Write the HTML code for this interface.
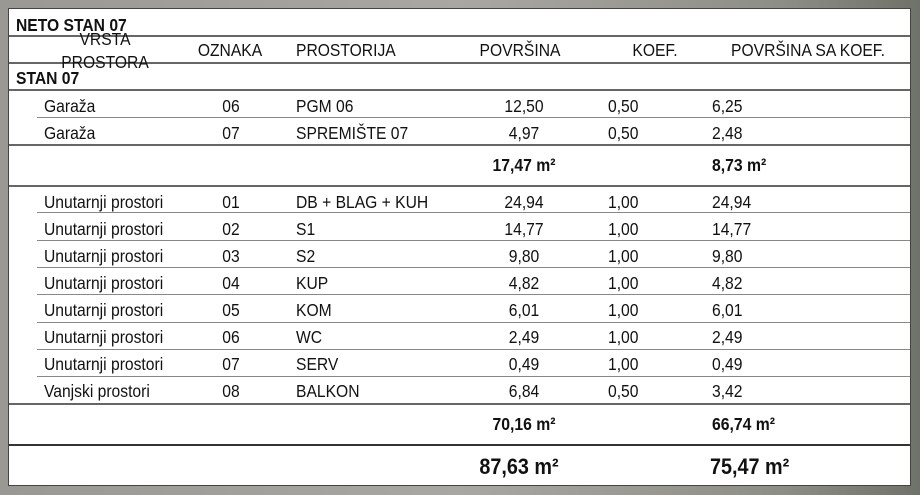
<!DOCTYPE html>
<html><head><meta charset="utf-8"><style>
body{margin:0;width:920px;height:495px;background:linear-gradient(90deg,#9a9893 0%,#a9a7a2 50%,#8d8e86 85%,#6f7268 100%);position:relative;overflow:hidden;font-family:"Liberation Sans",sans-serif;color:#111}
#p{position:absolute;left:9px;top:9px;width:901px;height:476px;background:#fff;box-shadow:0 0 0 1px #444}
.l{position:absolute;height:2px;background:#666;left:0;width:901px}
.t{position:absolute;font-size:17.4px;white-space:nowrap;transform:scaleX(.9);transform-origin:0 0;line-height:18px}
.c{transform:translate(-50%,0) scaleX(.9);transform-origin:50% 0}
.b{font-weight:bold}
.s{font-size:17.5px}
.g{font-size:22px;line-height:24px}
</style></head><body><div id="p">
<div class="l" style="top:26px"></div>
<div class="l" style="top:53px"></div>
<div class="l" style="top:80px"></div>
<div class="l" style="top:108px;left:28px;width:873px;height:1px;background:#888"></div>
<div class="l" style="top:135px"></div>
<div class="l" style="top:176px"></div>
<div class="l" style="top:203px;left:28px;width:873px;height:1px;background:#888"></div>
<div class="l" style="top:231px;left:28px;width:873px;height:1px;background:#888"></div>
<div class="l" style="top:258px;left:28px;width:873px;height:1px;background:#888"></div>
<div class="l" style="top:285px;left:28px;width:873px;height:1px;background:#888"></div>
<div class="l" style="top:313px;left:28px;width:873px;height:1px;background:#888"></div>
<div class="l" style="top:340px;left:28px;width:873px;height:1px;background:#888"></div>
<div class="l" style="top:367px;left:28px;width:873px;height:1px;background:#888"></div>
<div class="l" style="top:394px"></div>
<div class="l" style="top:435px;background:#333"></div>

<div class="t b" style="left:7px;top:7px">NETO STAN 07</div>
<div class="t c" style="left:96px;top:21px">VRSTA</div>
<div class="t c" style="left:96px;top:44px">PROSTORA</div>
<div class="t c" style="left:221px;top:32px">OZNAKA</div>
<div class="t" style="left:287px;top:32px">PROSTORIJA</div>
<div class="t c" style="left:511px;top:32px">POVRŠINA</div>
<div class="t c" style="left:646px;top:32px">KOEF.</div>
<div class="t c" style="left:799px;top:32px">POVRŠINA SA KOEF.</div>
<div class="t b" style="left:7px;top:60px">STAN 07</div>

<div class="t" style="left:35px;top:88px">Garaža</div><div class="t c" style="left:222px;top:88px">06</div><div class="t" style="left:287px;top:88px">PGM 06</div><div class="t c" style="left:515px;top:88px">12,50</div><div class="t" style="left:599px;top:88px">0,50</div><div class="t" style="left:703px;top:88px">6,25</div>
<div class="t" style="left:35px;top:115px">Garaža</div><div class="t c" style="left:222px;top:115px">07</div><div class="t" style="left:287px;top:115px">SPREMIŠTE 07</div><div class="t c" style="left:515px;top:115px">4,97</div><div class="t" style="left:599px;top:115px">0,50</div><div class="t" style="left:703px;top:115px">2,48</div>
<div class="t c b s" style="left:515px;top:147px">17,47 m²</div><div class="t b s" style="left:703px;top:147px">8,73 m²</div>

<div class="t" style="left:35px;top:184px">Unutarnji prostori</div><div class="t c" style="left:222px;top:184px">01</div><div class="t" style="left:287px;top:184px">DB + BLAG + KUH</div><div class="t c" style="left:515px;top:184px">24,94</div><div class="t" style="left:599px;top:184px">1,00</div><div class="t" style="left:703px;top:184px">24,94</div>
<div class="t" style="left:35px;top:211px">Unutarnji prostori</div><div class="t c" style="left:222px;top:211px">02</div><div class="t" style="left:287px;top:211px">S1</div><div class="t c" style="left:515px;top:211px">14,77</div><div class="t" style="left:599px;top:211px">1,00</div><div class="t" style="left:703px;top:211px">14,77</div>
<div class="t" style="left:35px;top:238px">Unutarnji prostori</div><div class="t c" style="left:222px;top:238px">03</div><div class="t" style="left:287px;top:238px">S2</div><div class="t c" style="left:515px;top:238px">9,80</div><div class="t" style="left:599px;top:238px">1,00</div><div class="t" style="left:703px;top:238px">9,80</div>
<div class="t" style="left:35px;top:265px">Unutarnji prostori</div><div class="t c" style="left:222px;top:265px">04</div><div class="t" style="left:287px;top:265px">KUP</div><div class="t c" style="left:515px;top:265px">4,82</div><div class="t" style="left:599px;top:265px">1,00</div><div class="t" style="left:703px;top:265px">4,82</div>
<div class="t" style="left:35px;top:292px">Unutarnji prostori</div><div class="t c" style="left:222px;top:292px">05</div><div class="t" style="left:287px;top:292px">KOM</div><div class="t c" style="left:515px;top:292px">6,01</div><div class="t" style="left:599px;top:292px">1,00</div><div class="t" style="left:703px;top:292px">6,01</div>
<div class="t" style="left:35px;top:319px">Unutarnji prostori</div><div class="t c" style="left:222px;top:319px">06</div><div class="t" style="left:287px;top:319px">WC</div><div class="t c" style="left:515px;top:319px">2,49</div><div class="t" style="left:599px;top:319px">1,00</div><div class="t" style="left:703px;top:319px">2,49</div>
<div class="t" style="left:35px;top:346px">Unutarnji prostori</div><div class="t c" style="left:222px;top:346px">07</div><div class="t" style="left:287px;top:346px">SERV</div><div class="t c" style="left:515px;top:346px">0,49</div><div class="t" style="left:599px;top:346px">1,00</div><div class="t" style="left:703px;top:346px">0,49</div>
<div class="t" style="left:35px;top:373px">Vanjski prostori</div><div class="t c" style="left:222px;top:373px">08</div><div class="t" style="left:287px;top:373px">BALKON</div><div class="t c" style="left:515px;top:373px">6,84</div><div class="t" style="left:599px;top:373px">0,50</div><div class="t" style="left:703px;top:373px">3,42</div>
<div class="t c b s" style="left:515px;top:406px">70,16 m²</div><div class="t b s" style="left:703px;top:406px">66,74 m²</div>
<div class="t c b g" style="left:510px;top:446px">87,63 m²</div><div class="t b g" style="left:701px;top:446px">75,47 m²</div>
</div></body></html>
